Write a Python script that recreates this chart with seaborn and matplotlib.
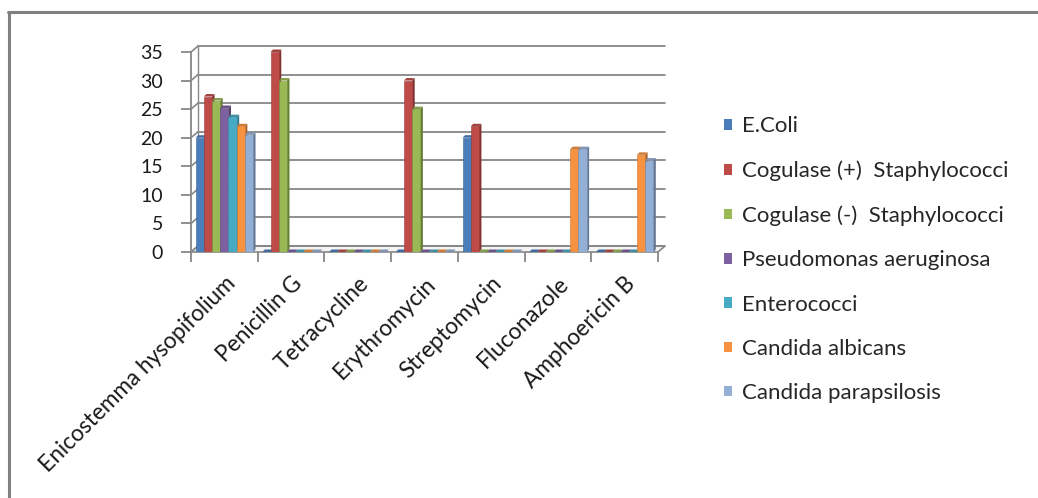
import numpy as np
import pandas as pd
import seaborn as sns
import matplotlib
matplotlib.use("Agg")
import matplotlib.pyplot as plt
from matplotlib.patches import Polygon
from matplotlib.lines import Line2D
from matplotlib.colors import to_rgb

# ---- data: zone of inhibition (mm) ----
categories = ["Enicostemma hysopifolium", "Penicillin G", "Tetracycline",
              "Erythromycin", "Streptomycin", "Fluconazole", "Amphoericin B"]
organisms = ["E.Coli", "Cogulase (+)  Staphylococci", "Cogulase (-)  Staphylococci",
             "Pseudomonas aeruginosa", "Enterococci", "Candida albicans",
             "Candida parapsilosis"]
e_coli = [20, 0, 0, 0, 20, 0, 0]
cog_pos = [27.2, 35, 0, 30, 22, 0, 0]
cog_neg = [26.5, 30, 0, 25, 0, 0, 0]
pseudomonas = [25.2, 0, 0, 0, 0, 0, 0]
enterococci = [23.6, 0, 0, 0, 0, 0, 0]
c_albicans = [22, 0, 0, 0, 0, 18, 17]
c_parapsilosis = [20.5, 0, 0, 0, 0, 18, 16]
yticks = [0, 5, 10, 15, 20, 25, 30, 35]

series = [e_coli, cog_pos, cog_neg, pseudomonas, enterococci, c_albicans, c_parapsilosis]
colors = ["#4A7EBB", "#BE4B48", "#98B954", "#7D60A0", "#46AAC5", "#F69240", "#94AFD6"]

df = pd.DataFrame([
    {"drug": c, "organism": o, "zone": v}
    for o, vals in zip(organisms, series)
    for c, v in zip(categories, vals)
])

sns.set_theme(style="white")
plt.rcParams["font.family"] = ["Lato", "DejaVu Sans"]

W, H = 1038, 498
fig = plt.figure(figsize=(W / 100, H / 100), dpi=100)
fig.patch.set_facecolor("white")

# front plane of the 3-D plot box, in pixels
x0p, x1p, y0p, y1p = 191, 658, 252, 52
ax = fig.add_axes([x0p / W, (H - y0p) / H, (x1p - x0p) / W, (y0p - y1p) / H])
ax.set_facecolor("none")

sns.barplot(data=df, x="drug", y="zone", hue="organism", order=categories,
            hue_order=organisms, palette=colors, width=0.86, saturation=1,
            errorbar=None, ax=ax, zorder=3)
ax.legend_.remove()
ax.set_xlim(-0.5, len(categories) - 0.5)
ax.set_ylim(0, 35)

# pixel -> data unit conversion
ux = len(categories) / (x1p - x0p)
uy = 35 / (y0p - y1p)

# back wall depth and bar depth (pixels)
wdx, wdy = 7 * ux, 6 * uy
bdx, bdy = 2.5 * ux, 2.5 * uy

grid_c = "#878787"
xl, xr = -0.5, len(categories) - 0.5

# floor
ax.add_patch(Polygon([(xl, 0), (xr, 0), (xr + wdx, wdy), (xl + wdx, wdy)],
                     closed=True, facecolor="#F4F4F4", edgecolor=grid_c,
                     lw=1.2, zorder=1, clip_on=False))
# back wall gridlines and left wall diagonals
for yv in yticks:
    ax.add_line(Line2D([xl + wdx, xr + wdx], [yv + wdy, yv + wdy], color=grid_c,
                       lw=1.3, zorder=1, clip_on=False))
    ax.add_line(Line2D([xl, xl + wdx], [yv, yv + wdy], color=grid_c,
                       lw=1.2, zorder=1, clip_on=False))
ax.add_line(Line2D([xl, xl], [0, 35], color=grid_c, lw=1.3, zorder=1, clip_on=False))
ax.add_line(Line2D([xl + wdx, xl + wdx], [wdy, 35 + wdy], color=grid_c, lw=1.0,
                   zorder=1, clip_on=False))

# pseudo-3D faces on every bar
for k, cont in enumerate(ax.containers):
    base = np.array(to_rgb(colors[k]))
    side = tuple(base * 0.68)
    top = tuple(np.clip(base * 0.85, 0, 1))
    for bar in cont:
        bx0 = bar.get_x()
        bx1 = bx0 + bar.get_width()
        h = bar.get_height()
        bar.set_zorder(3 + 0.1 * k + 0.05)
        bar.set_edgecolor(tuple(base * 0.8))
        bar.set_linewidth(0.4)
        ax.add_patch(Polygon([(bx1, 0), (bx1, h), (bx1 + bdx, h + bdy), (bx1 + bdx, bdy)],
                             closed=True, facecolor=side, edgecolor="none",
                             zorder=3 + 0.1 * k, clip_on=False))
        ax.add_patch(Polygon([(bx0, h), (bx1, h), (bx1 + bdx, h + bdy), (bx0 + bdx, h + bdy)],
                             closed=True, facecolor=top, edgecolor="none",
                             zorder=3 + 0.1 * k, clip_on=False))

for s in ax.spines.values():
    s.set_visible(False)

ax.set_yticks(yticks)
ax.set_yticklabels([str(v) for v in yticks], fontsize=14, color="#1a1a1a")
ax.tick_params(axis="y", left=True, length=7, width=1.3, color=grid_c, pad=13)

ax.set_xticks(range(len(categories)))
ax.set_xticklabels(categories, rotation=45, ha="right", va="top",
                   rotation_mode="anchor", fontsize=16.3, color="#1a1a1a")
ax.set_xticks(np.arange(-0.5, len(categories)), minor=True)
ax.tick_params(axis="x", which="major", length=0, pad=15)
ax.tick_params(axis="x", which="minor", bottom=True, length=7, width=1.3, color=grid_c)
ax.set_xlabel("")
ax.set_ylabel("")
ax.grid(False)

# legend
handles = [plt.Rectangle((0, 0), 1, 1, facecolor=c, edgecolor="none") for c in colors]
fig.legend(handles, organisms, loc="upper left",
           bbox_to_anchor=(724 / W, 1 - 116.5 / H), frameon=False,
           fontsize=16, handlelength=0.34, handleheight=0.34,
           handletextpad=0.45, labelspacing=1.09, borderaxespad=0, borderpad=0)

# outer chart frame (left and top edges)
fig.add_artist(Line2D([8.5 / W, 8.5 / W], [0, 1 - 12.5 / H], color="#808080",
                      lw=2.2, transform=fig.transFigure))
fig.add_artist(Line2D([7.5 / W, 1], [1 - 12.5 / H, 1 - 12.5 / H], color="#808080",
                      lw=2.2, transform=fig.transFigure))

fig.savefig("out.png", dpi=100)
